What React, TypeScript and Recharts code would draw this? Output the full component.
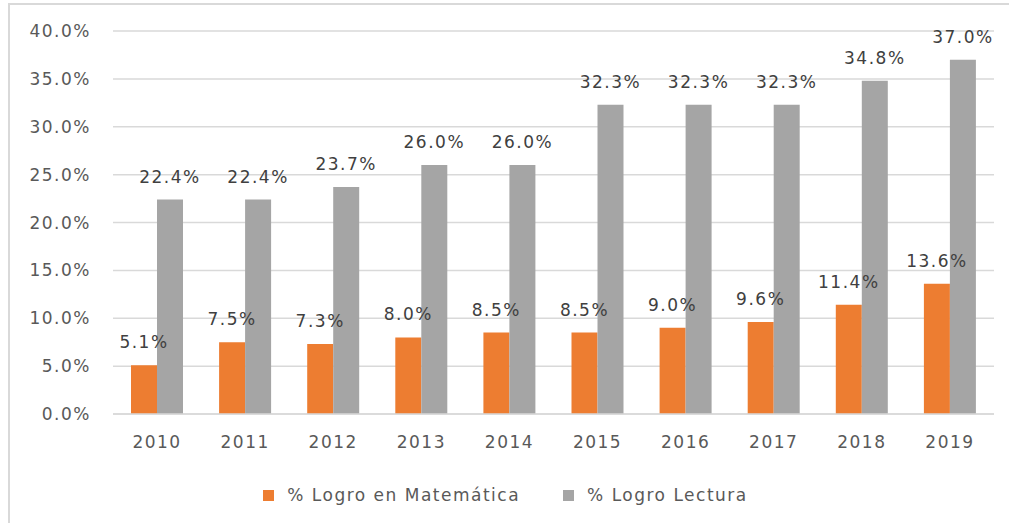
import { BarChart, Bar, XAxis, YAxis, CartesianGrid, Legend, LabelList } from 'recharts'

const years = ['2010', '2011', '2012', '2013', '2014', '2015', '2016', '2017', '2018', '2019']
const matematica = [5.1, 7.5, 7.3, 8.0, 8.5, 8.5, 9.0, 9.6, 11.4, 13.6]
const lectura = [22.4, 22.4, 23.7, 26.0, 26.0, 32.3, 32.3, 32.3, 34.8, 37.0]
const yTicks = [0, 5, 10, 15, 20, 25, 30, 35, 40]

const MAT_NAME = '% Logro en Matemática'
const LEC_NAME = '% Logro Lectura'
const ORANGE = '#ED7D31'
const GREY = '#A5A5A5'
const FONT = { fontSize: 17, letterSpacing: 1.5 }

const data = years.map((year, i) => ({
  year,
  mat: matematica[i],
  lec: lectura[i],
}))

const pct = (v: number) => `${v.toFixed(1)}%`

function LegendContent() {
  const items = [
    { name: MAT_NAME, color: ORANGE },
    { name: LEC_NAME, color: GREY },
  ]
  return (
    <div
      style={{
        height: 79,
        paddingTop: 23,
        paddingLeft: 17,
        boxSizing: 'border-box',
        display: 'flex',
        justifyContent: 'center',
        gap: 43,
        fontSize: 17,
        letterSpacing: 1.5,
        lineHeight: '20px',
        color: '#595959',
      }}
    >
      {items.map(item => (
        <div key={item.name} style={{ display: 'flex', alignItems: 'center' }}>
          <div style={{ width: 11, height: 11, background: item.color, marginRight: 13 }} />
          <span>{item.name}</span>
        </div>
      ))}
    </div>
  )
}

export default function App() {
  return (
    <div
      style={{
        position: 'fixed',
        left: 0,
        top: 0,
        width: 1009,
        height: 523,
        background: '#fff',
        overflow: 'hidden',
        fontFamily: '"DejaVu Sans", sans-serif',
      }}
    >
      <div
        style={{
          position: 'absolute',
          left: 8,
          top: 3,
          width: 1020,
          height: 540,
          border: '2px solid #d9d9d9',
        }}
      />
      <div style={{ position: 'absolute', left: 0, top: 0 }}>
        <BarChart
          width={1009}
          height={523}
          data={data}
          margin={{ top: 31, right: 15, left: 0, bottom: 0 }}
          barSize={26}
          barGap={0}
        >
          <CartesianGrid vertical={false} stroke="#d9d9d9" strokeWidth={1.5} />
          <XAxis
            dataKey="year"
            height={30}
            tickLine={false}
            axisLine={{ stroke: '#d9d9d9', strokeWidth: 1.5 }}
            tickMargin={16}
            tick={{ ...FONT, fill: '#595959' }}
          />
          <YAxis
            width={113}
            domain={[0, 40]}
            ticks={yTicks}
            tickFormatter={pct}
            tickLine={false}
            axisLine={false}
            tickMargin={16}
            tick={{ ...FONT, fill: '#595959' }}
          />
          <Legend verticalAlign="bottom" height={79} content={<LegendContent />} />
          <Bar dataKey="mat" name={MAT_NAME} fill={ORANGE} isAnimationActive={false}>
            <LabelList dataKey="mat" position="top" offset={17} formatter={(v: number) => pct(v)} fill="#404040" {...FONT} />
          </Bar>
          <Bar dataKey="lec" name={LEC_NAME} fill={GREY} isAnimationActive={false}>
            <LabelList dataKey="lec" position="top" offset={17} formatter={(v: number) => pct(v)} fill="#404040" {...FONT} />
          </Bar>
        </BarChart>
      </div>
    </div>
  )
}
